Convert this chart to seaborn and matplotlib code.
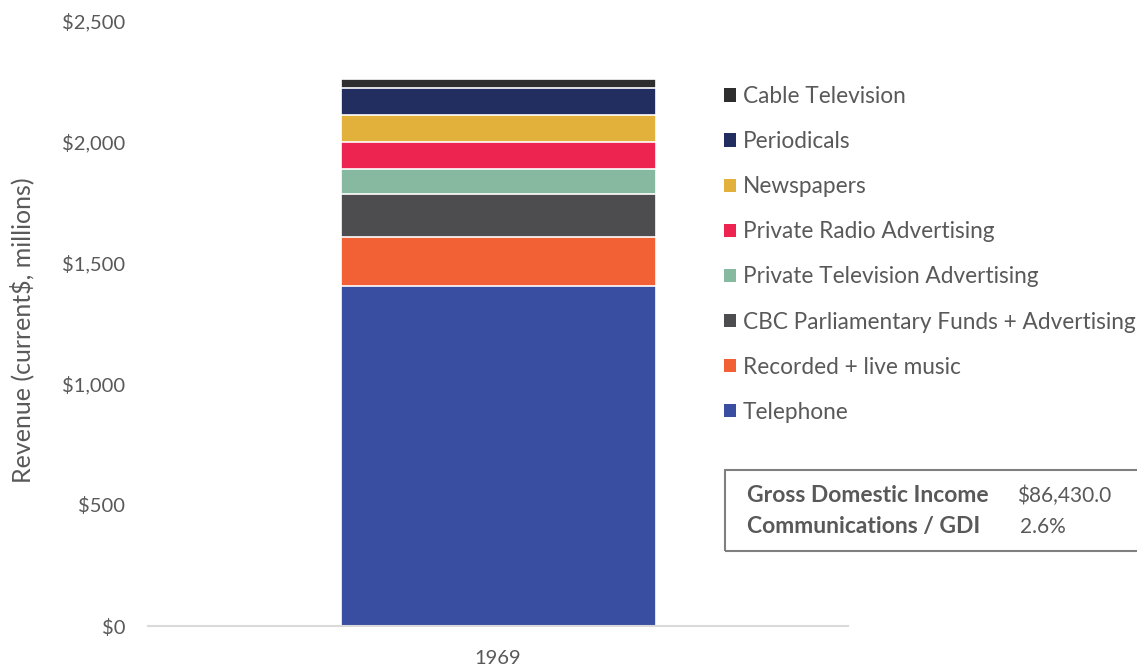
import matplotlib
matplotlib.use("Agg")
import matplotlib.pyplot as plt
from matplotlib.patches import Patch, Rectangle
from matplotlib.ticker import FuncFormatter
import numpy as np
import pandas as pd
import seaborn as sns

# Revenue by sector, 1969 (current $, millions), bottom to top of the stack
years = ["1969"]
sectors = [
    "Telephone",
    "Recorded + live music",
    "CBC Parliamentary Funds + Advertising",
    "Private Television Advertising",
    "Private Radio Advertising",
    "Newspapers",
    "Periodicals",
    "Cable Television",
]
revenue = [1406, 200, 178, 106, 109, 113, 113, 36]
colors = [
    "#394ea0",
    "#f26135",
    "#4d4d4f",
    "#86b99f",
    "#ec244f",
    "#e2b13c",
    "#222e5f",
    "#2e2e2e",
]
gdi = 86430.0

sns.set_theme(style="white")
plt.rcParams["font.family"] = ["Lato", "DejaVu Sans"]
text_grey = "#595959"

fig = plt.figure(figsize=(11.37, 6.68), dpi=100)
ax = fig.add_axes([148 / 1137, 1 - 626 / 668, 700 / 1137, 605 / 668])

# Stack by drawing cumulative totals from the tallest layer down
cum = np.cumsum(revenue)
for i in range(len(sectors) - 1, -1, -1):
    df = pd.DataFrame({"year": years, "value": [cum[i]]})
    sns.barplot(data=df, x="year", y="value", color=colors[i], saturation=1,
                width=0.45, edgecolor="white", linewidth=1.2, ax=ax)

ax.set_xlim(-0.5, 0.5)
ax.set_ylim(0, 2500)
ax.set_yticks(np.arange(0, 2501, 500))
ax.yaxis.set_major_formatter(FuncFormatter(lambda v, p: f"${v:,.0f}"))
ax.set_xlabel("")
ax.set_ylabel("Revenue (current$, millions)", fontsize=18, color=text_grey)
ax.yaxis.set_label_coords((34 - 148) / 700, (626 - 330) / 605)
ax.tick_params(axis="y", length=0, labelsize=14.5, labelcolor=text_grey, pad=16.5)
ax.tick_params(axis="x", length=0, labelsize=14.5, labelcolor=text_grey, pad=17)
ax.set_xticks([-0.5, 0.5], minor=True)
ax.tick_params(axis="x", which="minor", length=6, color="#d9d9d9", width=1.2, direction="out")

for s in ["top", "right", "left"]:
    ax.spines[s].set_visible(False)
ax.spines["bottom"].set_color("#d9d9d9")
ax.spines["bottom"].set_linewidth(1.5)
ax.grid(False)

handles = [Patch(facecolor=c, edgecolor="none") for c in colors][::-1]
labels = sectors[::-1]
leg = fig.legend(handles, labels, loc="upper left",
                 bbox_to_anchor=(724 / 1137, 1 - 86 / 668),
                 frameon=False, fontsize=16.3, labelcolor=text_grey,
                 handlelength=0.53, handleheight=0.53, handletextpad=0.3,
                 labelspacing=1.065, borderaxespad=0, borderpad=0)

# Summary box with GDI figures
box = Rectangle((725 / 1137, 1 - 551 / 668), 0.45, 81 / 668,
                transform=fig.transFigure, fill=False,
                edgecolor="#7f7f7f", linewidth=1.5, clip_on=False)
fig.add_artist(box)
share = cum[-1] / gdi * 100
fig.text(747 / 1137, 1 - 496 / 668, "Gross Domestic Income", fontsize=16.5,
         fontweight="bold", color=text_grey, va="center", ha="left")
fig.text(1017 / 1137, 1 - 496 / 668, f"${gdi:,.1f}", fontsize=15,
         color=text_grey, va="center", ha="left")
fig.text(747 / 1137, 1 - 527 / 668, "Communications / GDI", fontsize=16.5,
         fontweight="bold", color=text_grey, va="center", ha="left")
fig.text(1020 / 1137, 1 - 527 / 668, f"{share:.1f}%", fontsize=15,
         color=text_grey, va="center", ha="left")

fig.savefig("out.png", dpi=100, facecolor="white")
